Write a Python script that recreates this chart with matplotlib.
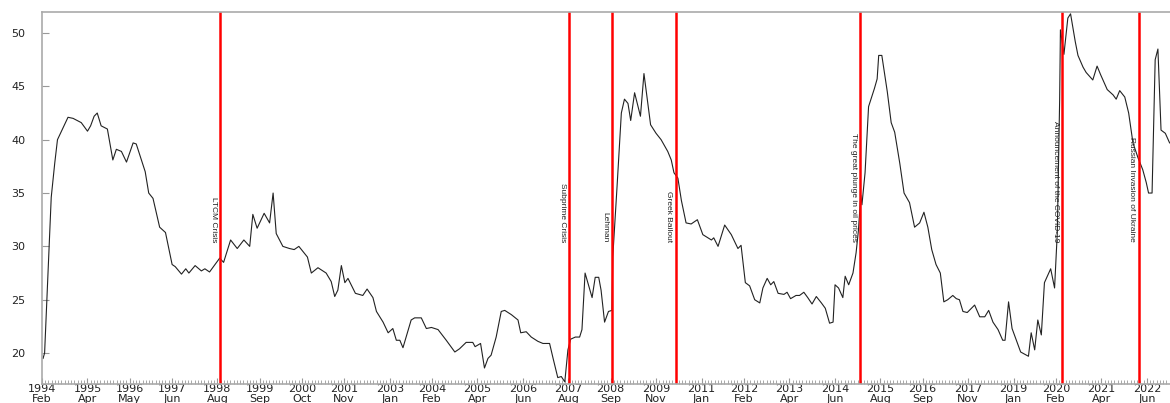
import matplotlib
matplotlib.use("Agg")
import matplotlib.pyplot as plt
import numpy as np

# weekly index level, sampled at turning points (decimal year, level)
dates = [
    1994.11, 1994.15, 1994.32, 1994.41, 1994.48, 1994.75, 1994.88, 1995.09, 1995.25, 1995.33,
    1995.42, 1995.50, 1995.60, 1995.76, 1995.90, 1995.99, 1996.12, 1996.25, 1996.42, 1996.50,
    1996.73, 1996.82, 1996.93, 1997.10, 1997.25, 1997.42, 1997.50, 1997.66, 1997.77, 1997.85,
    1998.01, 1998.17, 1998.26, 1998.38, 1998.64, 1998.74, 1998.92, 1999.09, 1999.26, 1999.41,
    1999.49, 1999.60, 1999.78, 1999.92, 2000.01, 2000.09, 2000.26, 2000.43, 2000.55, 2000.67,
    2000.89, 2000.99, 2001.16, 2001.37, 2001.50, 2001.59, 2001.67, 2001.76, 2001.85, 2001.93,
    2002.12, 2002.31, 2002.42, 2002.57, 2002.66, 2002.83, 2002.96, 2003.08, 2003.17, 2003.26,
    2003.34, 2003.55, 2003.64, 2003.81, 2003.94, 2004.07, 2004.24, 2004.45, 2004.67, 2004.79,
    2004.96, 2005.13, 2005.19, 2005.33, 2005.43, 2005.52, 2005.60, 2005.73, 2005.86, 2005.95,
    2006.12, 2006.29, 2006.36, 2006.50, 2006.63, 2006.80, 2006.93, 2007.10, 2007.19, 2007.31,
    2007.40, 2007.49, 2007.57, 2007.64, 2007.76, 2007.87, 2007.93, 2008.01, 2008.19, 2008.27,
    2008.36, 2008.42, 2008.51, 2008.61, 2008.70, 2008.72, 2008.83, 2008.94, 2009.02, 2009.11,
    2009.18, 2009.28, 2009.37, 2009.43, 2009.52, 2009.69, 2009.83, 2009.96, 2010.13, 2010.22,
    2010.29, 2010.39, 2010.48, 2010.60, 2010.73, 2010.89, 2011.03, 2011.25, 2011.31, 2011.42,
    2011.59, 2011.76, 2011.93, 2012.01, 2012.12, 2012.23, 2012.36, 2012.49, 2012.57, 2012.68,
    2012.77, 2012.85, 2012.96, 2013.11, 2013.19, 2013.28, 2013.42, 2013.51, 2013.62, 2013.72,
    2013.83, 2013.94, 2014.07, 2014.17, 2014.28, 2014.37, 2014.42, 2014.51, 2014.62, 2014.68,
    2014.77, 2014.88, 2014.96, 2015.02, 2015.08, 2015.11, 2015.19, 2015.28, 2015.43, 2015.50,
    2015.54, 2015.62, 2015.76, 2015.86, 2015.95, 2016.08, 2016.19, 2016.33, 2016.46, 2016.59,
    2016.70, 2016.80, 2016.90, 2017.01, 2017.12, 2017.21, 2017.31, 2017.44, 2017.53, 2017.61,
    2017.70, 2017.81, 2018.00, 2018.13, 2018.26, 2018.36, 2018.47, 2018.60, 2018.72, 2018.78,
    2018.87, 2018.96, 2019.07, 2019.18, 2019.28, 2019.38, 2019.45, 2019.54, 2019.62, 2019.71,
    2019.79, 2019.95, 2020.05, 2020.12, 2020.18, 2020.20, 2020.29, 2020.39, 2020.46, 2020.58,
    2020.65, 2020.78, 2020.86, 2021.03, 2021.14, 2021.23, 2021.40, 2021.55, 2021.63, 2021.72,
    2021.85, 2021.95, 2022.06, 2022.19, 2022.31, 2022.40, 2022.46, 2022.55, 2022.63, 2022.70,
    2022.78, 2022.89, 2023.00,
]
levels = [
    19.5, 20.0, 34.6, 37.8, 40.0, 42.1, 42.0, 41.6, 40.8, 41.3,
    42.2, 42.5, 41.3, 41.0, 38.1, 39.1, 38.9, 37.9, 39.7, 39.6,
    37.0, 35.0, 34.5, 31.8, 31.3, 28.3, 28.1, 27.4, 27.9, 27.5,
    28.2, 27.7, 27.9, 27.6, 28.9, 28.5, 30.6, 29.8, 30.6, 30.0,
    33.0, 31.7, 33.1, 32.2, 35.0, 31.2, 30.0, 29.8, 29.7, 30.0,
    29.0, 27.5, 28.0, 27.5, 26.7, 25.3, 25.9, 28.2, 26.6, 27.0,
    25.6, 25.4, 26.0, 25.2, 23.9, 22.9, 21.9, 22.3, 21.2, 21.2,
    20.5, 23.1, 23.3, 23.3, 22.3, 22.4, 22.2, 21.2, 20.1, 20.4,
    21.0, 21.0, 20.6, 20.9, 18.6, 19.5, 19.8, 21.5, 23.9, 24.0,
    23.6, 23.1, 21.9, 22.0, 21.5, 21.1, 20.9, 20.9, 19.5, 17.7,
    17.8, 17.3, 20.3, 21.3, 21.5, 21.5, 22.2, 27.5, 25.2, 27.1,
    27.1, 25.9, 22.9, 23.9, 24.0, 29.0, 35.6, 42.5, 43.8, 43.4,
    41.8, 44.4, 43.1, 42.2, 46.2, 41.4, 40.6, 40.0, 38.9, 38.1,
    36.9, 36.4, 34.3, 32.2, 32.1, 32.5, 31.1, 30.6, 30.8, 30.0,
    32.0, 31.1, 29.8, 30.1, 26.6, 26.3, 25.0, 24.7, 26.1, 27.0,
    26.4, 26.7, 25.6, 25.5, 25.7, 25.1, 25.4, 25.4, 25.7, 25.2,
    24.6, 25.3, 24.7, 24.2, 22.8, 22.9, 26.4, 26.1, 25.2, 27.2,
    26.4, 27.5, 29.4, 31.5, 34.8, 33.9, 36.9, 43.1, 44.8, 45.7,
    47.9, 47.9, 44.5, 41.6, 40.7, 37.8, 35.0, 34.1, 31.8, 32.2,
    33.2, 31.8, 29.7, 28.3, 27.5, 24.8, 25.0, 25.4, 25.1, 25.0,
    23.9, 23.8, 24.5, 23.4, 23.4, 24.0, 22.9, 22.2, 21.2, 21.2,
    24.8, 22.3, 21.2, 20.1, 19.9, 19.7, 21.9, 20.3, 23.1, 21.7,
    26.6, 27.9, 26.1, 31.3, 43.7, 50.3, 48.0, 51.4, 51.8, 49.2,
    47.9, 46.8, 46.3, 45.6, 46.9, 46.1, 44.7, 44.2, 43.8, 44.6,
    44.0, 42.5, 39.7, 38.3, 37.2, 36.0, 35.0, 35.0, 47.5, 48.5,
    40.9, 40.6, 39.7,
]

events = ["LTCM Crisis", "Subprime Crisis", "Lehman", "Greek Bailout",
          "The great plunge in oil prices", "Announcement of the COVID-19",
          "Russian Invasion of Ukraine"]
event_dates = [1998.65, 2007.60, 2008.70, 2010.34, 2015.06, 2020.24, 2022.21]

tick_years = [1994, 1995, 1996, 1997, 1998, 1999, 2000, 2001, 2003, 2004, 2005, 2006, 2007,
              2008, 2009, 2011, 2012, 2013, 2014, 2015, 2016, 2017, 2019, 2020, 2021, 2022]
tick_months = ["Feb", "Apr", "May", "Jun", "Aug", "Sep", "Oct", "Nov", "Jan", "Feb", "Apr", "Jun", "Aug",
               "Sep", "Nov", "Jan", "Feb", "Apr", "Jun", "Aug", "Sep", "Nov", "Jan", "Feb", "Apr", "Jun"]
month_names = ["Jan", "Feb", "Mar", "Apr", "May", "Jun", "Jul", "Aug", "Sep", "Oct", "Nov", "Dec"]

x_start, x_end = 1994 + 1 / 12, 2023.01

fig = plt.figure(figsize=(11.7, 4.03), dpi=100)
ax = fig.add_axes([42 / 1170, 19 / 403, 1128 / 1170, 372 / 403])

ax.plot(dates, levels, color="#222222", lw=0.8)
for name, d in zip(events, event_dates):
    ax.axvline(d, color="#ff0000", lw=1.8)
    ax.annotate(name, (d, 30.4), xytext=(-2.5, 0), textcoords="offset points",
                rotation=270, rotation_mode="anchor", ha="right", va="top",
                fontsize=6, color="#222222",
                family=["Liberation Sans", "DejaVu Sans"])

ax.set_xlim(x_start, x_end)
ax.set_ylim(17.1, 51.97)

major_pos = [y + month_names.index(m) / 12 for y, m in zip(tick_years, tick_months)]
ax.set_xticks(major_pos)
ax.set_xticklabels([f"{y}\n{m}" for y, m in zip(tick_years, tick_months)],
                   fontsize=8, linespacing=0.95, color="#222222")
ax.set_xticks(np.arange(x_start, x_end, 1 / 12), minor=True)
ax.tick_params(axis="x", which="both", direction="in", color="#999999", pad=0)
ax.tick_params(axis="x", which="major", length=4)
ax.tick_params(axis="x", which="minor", length=3, width=0.6)

ax.set_yticks([20, 25, 30, 35, 40, 45, 50])
ax.tick_params(axis="y", direction="in", length=5, color="#999999", pad=12,
               labelsize=8, labelcolor="#222222")

for side in ["left", "top", "bottom"]:
    ax.spines[side].set_color("#aaaaaa")
    ax.spines[side].set_linewidth(1.2)
ax.spines["right"].set_visible(False)

fig.savefig("out.png", dpi=100)
